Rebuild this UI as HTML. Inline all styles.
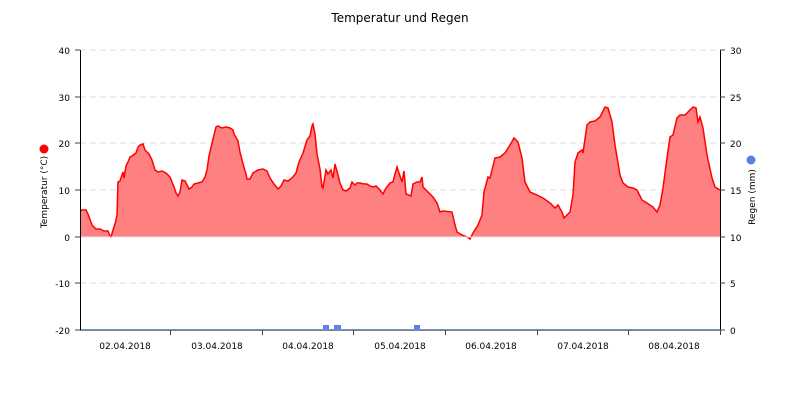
<!DOCTYPE html>
<html><head><style>body{margin:0;background:#fff}svg{display:block;font-family:"DejaVu Sans","Liberation Sans",sans-serif}</style></head><body>
<svg width="800" height="400" viewBox="0 0 800 400" xmlns="http://www.w3.org/2000/svg">
<rect width="800" height="400" fill="#fff"/>
<text x="400" y="22" font-size="12" text-anchor="middle" fill="#000">Temperatur und Regen</text>
<g stroke="#ddd" stroke-dasharray="6,4" stroke-width="1">
<line x1="80" y1="50" x2="720" y2="50"/><line x1="80" y1="97" x2="720" y2="97"/><line x1="80" y1="143" x2="720" y2="143"/><line x1="80" y1="190" x2="720" y2="190"/><line x1="80" y1="283" x2="720" y2="283"/>
</g>
<path fill="#ff8080" stroke="none" d="M80,237 L80,210 L86,210 L88,214 L92,225 L96,229 L100,229 L104,231 L108,231 L110,236 L111,237 L113,230 L115,224 L117,215 L118,182 L120,181 L122,175 L123,172 L124,178 L126,166 L128,162 L130,157 L132,156 L136,153 L138,147 L140,145 L143,144 L145,150 L149,154 L152,160 L155,170 L158,172 L162,171 L166,173 L170,177 L174,187 L176,193 L178,196 L180,192 L182,180 L185,181 L187,185 L189,189 L192,187 L194,184 L198,183 L202,182 L205,177 L207,170 L209,156 L213,139 L214,135 L216,127 L218,126 L222,128 L226,127 L230,128 L233,130 L234,134 L238,141 L240,152 L243,164 L246,174 L247,179 L250,179 L253,173 L258,170 L263,169 L267,171 L270,178 L274,184 L278,189 L281,186 L284,180 L288,181 L292,178 L296,173 L299,162 L303,153 L307,140 L310,136 L312,126 L313,124 L315,134 L317,154 L320,169 L322,187 L323,188 L326,170 L328,174 L331,170 L333,178 L335,164 L338,175 L340,183 L343,190 L346,191 L350,188 L352,182 L355,185 L357,183 L360,183 L364,184 L367,184 L370,186 L373,187 L376,186 L380,190 L383,194 L386,188 L390,183 L393,182 L395,174 L397,167 L399,173 L402,182 L404,171 L406,194 L411,196 L413,184 L417,182 L420,182 L422,177 L423,187 L427,191 L433,197 L437,203 L440,212 L443,211 L452,212 L455,225 L457,232 L462,235 L467,237 L470,239 L473,233 L478,225 L482,215 L484,192 L488,177 L490,178 L495,158 L500,157 L505,153 L510,145 L514,138 L518,142 L522,158 L525,182 L530,192 L537,195 L543,198 L550,203 L555,208 L558,205 L562,212 L564,218 L567,215 L570,212 L573,195 L575,162 L578,153 L582,150 L583,153 L587,125 L590,122 L595,121 L600,117 L605,107 L608,108 L612,122 L615,145 L620,175 L623,183 L628,187 L633,188 L637,190 L642,200 L647,203 L653,207 L657,212 L660,205 L663,188 L667,158 L670,137 L673,135 L677,118 L680,115 L685,115 L688,112 L693,107 L696,108 L698,122 L700,117 L703,128 L707,155 L712,178 L715,187 L720,190 L720,237 Z"/>
<path fill="none" stroke="#f00" stroke-width="1.5" d="M80,210 L86,210 L88,214 L92,225 L96,229 L100,229 L104,231 L108,231 L110,236 L111,237 L113,230 L115,224 L117,215 L118,182 L120,181 L122,175 L123,172 L124,178 L126,166 L128,162 L130,157 L132,156 L136,153 L138,147 L140,145 L143,144 L145,150 L149,154 L152,160 L155,170 L158,172 L162,171 L166,173 L170,177 L174,187 L176,193 L178,196 L180,192 L182,180 L185,181 L187,185 L189,189 L192,187 L194,184 L198,183 L202,182 L205,177 L207,170 L209,156 L213,139 L214,135 L216,127 L218,126 L222,128 L226,127 L230,128 L233,130 L234,134 L238,141 L240,152 L243,164 L246,174 L247,179 L250,179 L253,173 L258,170 L263,169 L267,171 L270,178 L274,184 L278,189 L281,186 L284,180 L288,181 L292,178 L296,173 L299,162 L303,153 L307,140 L310,136 L312,126 L313,124 L315,134 L317,154 L320,169 L322,187 L323,188 L326,170 L328,174 L331,170 L333,178 L335,164 L338,175 L340,183 L343,190 L346,191 L350,188 L352,182 L355,185 L357,183 L360,183 L364,184 L367,184 L370,186 L373,187 L376,186 L380,190 L383,194 L386,188 L390,183 L393,182 L395,174 L397,167 L399,173 L402,182 L404,171 L406,194 L411,196 L413,184 L417,182 L420,182 L422,177 L423,187 L427,191 L433,197 L437,203 L440,212 L443,211 L452,212 L455,225 L457,232 L462,235 L467,237 L470,239 L473,233 L478,225 L482,215 L484,192 L488,177 L490,178 L495,158 L500,157 L505,153 L510,145 L514,138 L518,142 L522,158 L525,182 L530,192 L537,195 L543,198 L550,203 L555,208 L558,205 L562,212 L564,218 L567,215 L570,212 L573,195 L575,162 L578,153 L582,150 L583,153 L587,125 L590,122 L595,121 L600,117 L605,107 L608,108 L612,122 L615,145 L620,175 L623,183 L628,187 L633,188 L637,190 L642,200 L647,203 L653,207 L657,212 L660,205 L663,188 L667,158 L670,137 L673,135 L677,118 L680,115 L685,115 L688,112 L693,107 L696,108 L698,122 L700,117 L703,128 L707,155 L712,178 L715,187 L720,190"/>
<line x1="80" y1="237" x2="720" y2="237" stroke="#e8e8e8" stroke-width="1"/>
<g fill="#5b7fe8"><rect x="323" y="325" width="6" height="5"/><rect x="334" y="325" width="7" height="5"/><rect x="414" y="325" width="6" height="5"/></g>
<line x1="80" y1="330" x2="720" y2="330" stroke="#000" stroke-width="1"/>
<line x1="80" y1="329.5" x2="720" y2="329.5" stroke="#7090e8" stroke-width="1"/>
<line x1="80.5" y1="50" x2="80.5" y2="330" stroke="#000"/>
<line x1="720.5" y1="50" x2="720.5" y2="330" stroke="#000"/>
<g stroke="#444" stroke-width="1">
<line x1="75" y1="50" x2="80" y2="50"/><line x1="75" y1="97" x2="80" y2="97"/><line x1="75" y1="143" x2="80" y2="143"/><line x1="75" y1="190" x2="80" y2="190"/><line x1="75" y1="237" x2="80" y2="237"/><line x1="75" y1="283" x2="80" y2="283"/><line x1="75" y1="330" x2="80" y2="330"/>
<line x1="720" y1="50" x2="725" y2="50"/><line x1="720" y1="97" x2="725" y2="97"/><line x1="720" y1="143" x2="725" y2="143"/><line x1="720" y1="190" x2="725" y2="190"/><line x1="720" y1="237" x2="725" y2="237"/><line x1="720" y1="283" x2="725" y2="283"/><line x1="720" y1="330" x2="725" y2="330"/>
<line x1="170.5" y1="330" x2="170.5" y2="335"/><line x1="262.5" y1="330" x2="262.5" y2="335"/><line x1="353.5" y1="330" x2="353.5" y2="335"/><line x1="445.5" y1="330" x2="445.5" y2="335"/><line x1="537.5" y1="330" x2="537.5" y2="335"/><line x1="628.5" y1="330" x2="628.5" y2="335"/><line x1="720.5" y1="330" x2="720.5" y2="335"/>
</g>
<g font-size="9" fill="#000" text-anchor="end">
<text x="70" y="54">40</text><text x="70" y="101">30</text><text x="70" y="147">20</text><text x="70" y="194">10</text><text x="70" y="241">0</text><text x="70" y="287">-10</text><text x="70" y="334">-20</text>
</g>
<g font-size="9" fill="#000">
<text x="730" y="54">30</text><text x="730" y="101">25</text><text x="730" y="147">20</text><text x="730" y="194">15</text><text x="730" y="241">10</text><text x="730" y="287">5</text><text x="730" y="334">0</text>
</g>
<g font-size="9" fill="#000" text-anchor="middle">
<text x="125" y="349">02.04.2018</text><text x="217" y="349">03.04.2018</text><text x="308" y="349">04.04.2018</text><text x="400" y="349">05.04.2018</text><text x="491" y="349">06.04.2018</text><text x="583" y="349">07.04.2018</text><text x="674" y="349">08.04.2018</text>
</g>
<circle cx="44" cy="149" r="4.5" fill="#f00"/>
<text transform="translate(47,192) rotate(-90)" font-size="9" text-anchor="middle">Temperatur (°C)</text>
<circle cx="751" cy="160" r="4.5" fill="#5b7fe8"/>
<text transform="translate(755,197) rotate(-90)" font-size="9" text-anchor="middle">Regen (mm)</text>
</svg>
</body></html>
